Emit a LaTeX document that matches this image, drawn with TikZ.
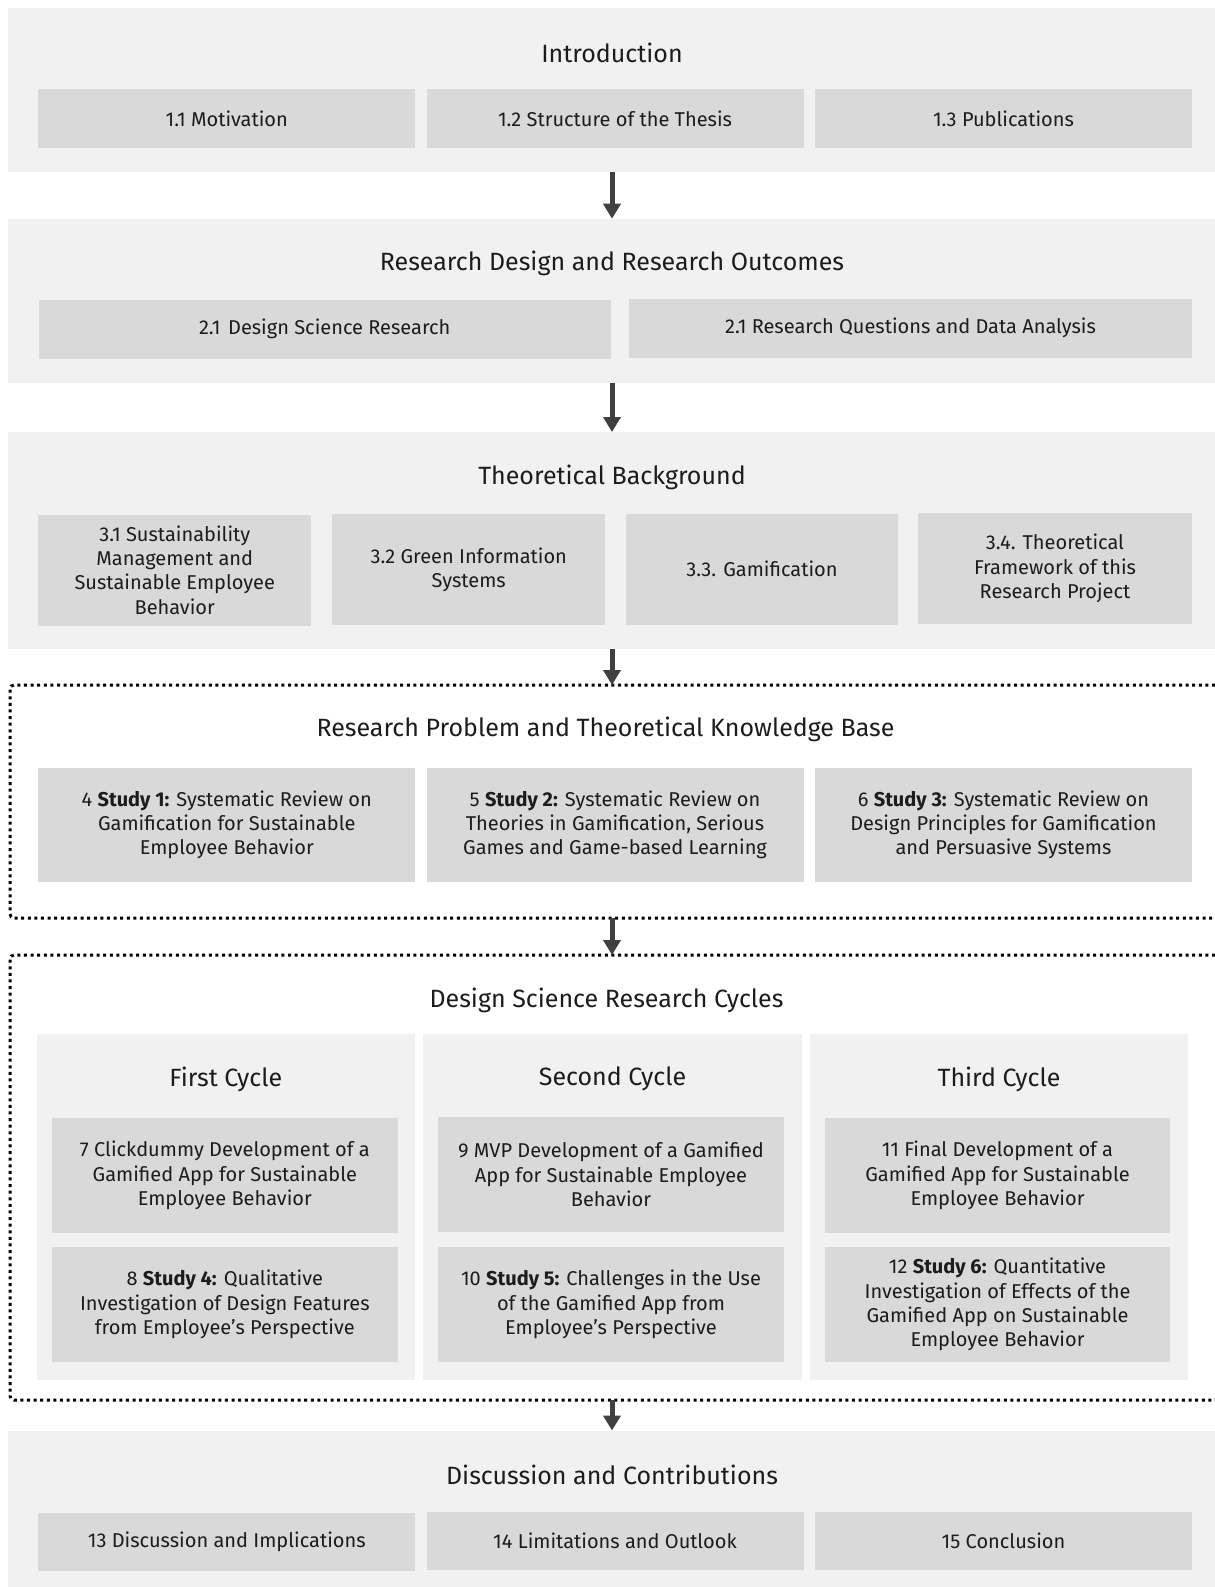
\documentclass[tikz,border=0pt]{standalone}
\usepackage{fontspec}
\setmainfont{Fira Sans}
\usetikzlibrary{arrows.meta}

\definecolor{panel}{HTML}{F1F1F1}
\definecolor{cell}{HTML}{D9D9D9}
\definecolor{ink}{HTML}{1C1C1C}
\definecolor{arrowgray}{HTML}{404040}

\tikzset{
  panelbox/.style={fill=panel, draw=none, inner sep=0pt, outer sep=0pt},
  cellbox/.style={fill=cell, draw=none, inner sep=0pt, outer sep=0pt, align=center,
    text=ink, font=\fontsize{20}{24.3}\selectfont},
  heading/.style={text=ink, font=\fontsize{25}{30}\selectfont, inner sep=0pt},
  dotframe/.style={draw=black, line width=3pt, dash pattern=on 3pt off 3.6pt,
    rounded corners=4pt, inner sep=0pt, outer sep=0pt},
  flow/.style={draw=arrowgray, line width=5pt, -{Triangle[width=17pt,length=15pt]}},
}

\begin{document}
\begin{tikzpicture}[x=1pt, y=-1pt]
\useasboundingbox (0,0) rectangle (1215,1587);
\coordinate (axis) at (612,0);

% ---------- Introduction ----------
\node[panelbox, minimum width=1207, minimum height=164] (intro) at (611.5,90) {};
\node[heading] (introT) at (612,52.6) {Introduction};
\node[cellbox, minimum width=377, minimum height=59] (c11) at (226.75,118.5) {1.1 Motivation};
\node[cellbox, minimum width=377, minimum height=59] (c12) at (615,118.5) {1.2 Structure of the Thesis};
\node[cellbox, minimum width=377, minimum height=59] (c13) at (1003.5,118.5) {1.3 Publications};

% ---------- Research design ----------
\node[panelbox, minimum width=1207, minimum height=164] (design) at (611.5,300.7) {};
\node[heading] (designT) at (612,263) {Research Design and Research Outcomes};
\node[cellbox, minimum width=572.5, minimum height=59] (c21) at (324.75,329) {2.1\hspace{0.12em} Design Science Research};
\node[cellbox, minimum width=563, minimum height=59] (c22) at (910.5,328) {2.1 Research Questions and Data Analysis};

% ---------- Theoretical background ----------
\node[panelbox, minimum width=1207, minimum height=217] (theory) at (611.5,540.5) {};
\node[heading] (theoryT) at (612,477) {Theoretical Background};
\node[cellbox, minimum width=273, minimum height=111] (c31) at (174.75,570) {3.1 Sustainability\\Management and\\Sustainable Employee\\Behavior};
\node[cellbox, minimum width=273, minimum height=111] (c32) at (468.75,569.5) {3.2 Green Information\\Systems};
\node[cellbox, minimum width=272, minimum height=111] (c33) at (762,569) {3.3. Gamification};
\node[cellbox, minimum width=274, minimum height=111] (c34) at (1055,568.5) {3.4. Theoretical\\Framework of this\\Research Project};

% ---------- Research problem (dotted frame) ----------
\node[dotframe, minimum width=1209, minimum height=233] (problem) at (614.5,801.5) {};
\node[heading] (problemT) at (605.5,729) {Research Problem and Theoretical Knowledge Base};
\node[cellbox, minimum width=377, minimum height=114.5] (c4) at (226.75,825) {4 \textbf{Study 1:} Systematic Review on\\Gamification for Sustainable\\Employee Behavior};
\node[cellbox, minimum width=377, minimum height=114.5] (c5) at (615,825) {5 \textbf{Study 2:} Systematic Review on\\Theories in Gamification, Serious\\Games and Game-based Learning};
\node[cellbox, minimum width=377, minimum height=114.5] (c6) at (1003.5,825) {6 \textbf{Study 3:} Systematic Review on\\Design Principles for Gamification\\and Persuasive Systems};

% ---------- Design science research cycles (dotted frame) ----------
\node[dotframe, minimum width=1209, minimum height=445] (cycles) at (614.5,1177.5) {};
\node[heading] (cyclesT) at (606.5,1000) {Design Science Research Cycles};

\node[panelbox, minimum width=378.5, minimum height=346] (first) at (225.75,1207) {};
\node[panelbox, minimum width=379, minimum height=346] (second) at (612.5,1207) {};
\node[panelbox, minimum width=378, minimum height=346] (third) at (999,1207) {};
\node[heading] (firstT) at (225.75,1079) {First Cycle};
\node[heading] (secondT) at (612.5,1079) {Second Cycle};
\node[heading] (thirdT) at (999,1079) {Third Cycle};

\node[cellbox, minimum width=346.5, minimum height=115] (c7) at (224.8,1175.5) {7 Clickdummy Development of a\\Gamified App for Sustainable\\Employee Behavior};
\node[cellbox, minimum width=346.5, minimum height=115] (c8) at (224.8,1304.5) {8 \textbf{Study 4:} Qualitative\\Investigation of Design Features\\from Employee’s Perspective};
\node[cellbox, minimum width=346, minimum height=115] (c9) at (611,1174.5) {9 MVP Development of a Gamified\\App for Sustainable Employee\\Behavior};
\node[cellbox, minimum width=346, minimum height=115] (c10) at (611,1304.5) {10 \textbf{Study 5:} Challenges in the Use\\of the Gamified App from\\Employee’s Perspective};
\node[cellbox, minimum width=345, minimum height=115] (c11b) at (997.5,1175.5) {11 Final Development of a\\Gamified App for Sustainable\\Employee Behavior};
\node[cellbox, minimum width=345, minimum height=115] (c12b) at (997.5,1304.5) {12 \textbf{Study 6:} Quantitative\\Investigation of Effects of the\\Gamified App on Sustainable\\Employee Behavior};

% ---------- Discussion ----------
\node[panelbox, minimum width=1207, minimum height=156] (disc) at (611.5,1508.5) {};
\node[heading] (discT) at (612,1475) {Discussion and Contributions};
\node[cellbox, minimum width=377, minimum height=58] (c13b) at (226.75,1542) {13 Discussion and Implications};
\node[cellbox, minimum width=377, minimum height=58] (c14) at (615,1541) {14 Limitations and Outlook};
\node[cellbox, minimum width=377, minimum height=58] (c15) at (1003.5,1541) {15 Conclusion};

% ---------- Flow between the parts ----------
\draw[flow] (intro.south -| axis) -- (design.north -| axis);
\draw[flow] (design.south -| axis) -- (theory.north -| axis);
\draw[flow] (theory.south -| axis) -- (problem.north -| axis);
\draw[flow] (problem.south -| axis) -- (cycles.north -| axis);
\draw[flow] (cycles.south -| axis) -- (disc.north -| axis);
\end{tikzpicture}
\end{document}
